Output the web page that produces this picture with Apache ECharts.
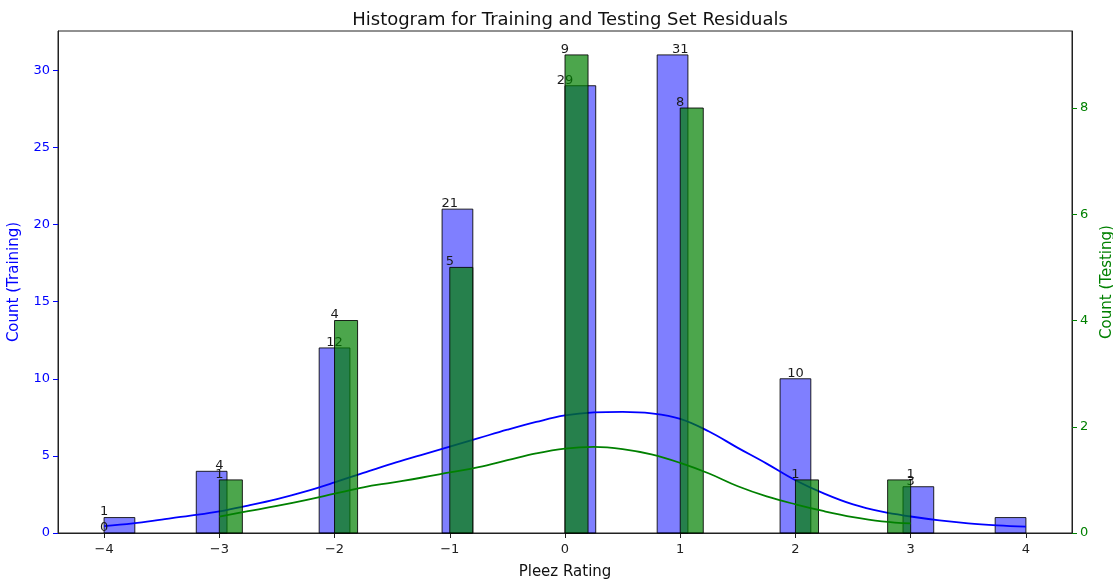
<!DOCTYPE html>
<html><head><meta charset="utf-8">
<script src="https://cdn.jsdelivr.net/npm/echarts@6/dist/echarts.min.js"></script>
<style>html,body{margin:0;padding:0;background:#fff}#c{width:1113px;height:583px}</style>
</head><body><div id="c"></div>
<script>
const titleText = 'Histogram for Training and Testing Set Residuals';
const xName = 'Pleez Rating';
const yNameTrain = 'Count (Training)';
const yNameTest = 'Count (Testing)';
const xTicks = [-4, -3, -2, -1, 0, 1, 2, 3, 4];
const yTicksTrain = [0, 5, 10, 15, 20, 25, 30];
const yTicksTest = [0, 2, 4, 6, 8];
const xExtent = [-4.4, 4.4];
const yTrainMax = 32.55;
const yTestMax = 9.45;

const trainRange = [-4, 4];
const trainCounts = [1,0,0,4,0,0,0,12,0,0,0,21,0,0,0,29,0,0,31,0,0,0,10,0,0,0,3,0,0,1];
const testRange = [-3, 3];
const testCounts = [1,0,0,0,0,4,0,0,0,0,5,0,0,0,0,9,0,0,0,0,8,0,0,0,0,1,0,0,0,1];

const labelX = [-4, -3, -2, -1, 0, 1, 2, 3];
const trainLabelCounts = [1, 4, 12, 21, 29, 31, 10, 3];
const testLabelCounts = [0, 1, 4, 5, 9, 8, 1, 1];

const trainKdeX = [-4,-3.75,-3.5,-3.25,-3,-2.75,-2.5,-2.25,-2,-1.75,-1.5,-1.25,-1,-0.75,-0.5,-0.25,0,0.25,0.5,0.75,1,1.25,1.5,1.75,2,2.25,2.5,2.75,3,3.25,3.5,3.75,4];
const trainKdeY = [0.45,0.63,0.87,1.12,1.40,1.78,2.20,2.70,3.28,3.90,4.50,5.05,5.60,6.15,6.70,7.20,7.62,7.82,7.86,7.76,7.40,6.58,5.52,4.50,3.42,2.55,1.85,1.38,1.07,0.82,0.63,0.50,0.41];
const testKdeX = [-3,-2.75,-2.5,-2.25,-2,-1.75,-1.5,-1.25,-1,-0.75,-0.5,-0.25,0,0.25,0.5,0.75,1,1.25,1.5,1.75,2,2.25,2.5,2.75,3];
const testKdeY = [0.31,0.41,0.51,0.62,0.74,0.86,0.95,1.04,1.14,1.24,1.37,1.50,1.59,1.62,1.58,1.48,1.32,1.12,0.88,0.69,0.54,0.41,0.30,0.22,0.18];

const FONT = 'DejaVu Sans';
const BLUE = '#0000ff';
const GREEN = '#008000';

function binData(range, counts) {
  const w = (range[1] - range[0]) / counts.length;
  return counts.map((c, i) => [range[0] + i * w, range[0] + (i + 1) * w, c]);
}
function pairs(xs, ys) { return xs.map((x, i) => [x, ys[i]]); }
function fmtNum(v) { return v < 0 ? '\u2212' + Math.abs(v) : String(v); }

function barRender(fill) {
  return function (params, api) {
    const c = api.value(2);
    if (!c) return null;
    const p0 = api.coord([api.value(0), c]);
    const p1 = api.coord([api.value(1), 0]);
    return {
      type: 'rect',
      shape: { x: p0[0], y: p0[1], width: p1[0] - p0[0], height: p1[1] - p0[1] },
      style: { fill: fill, stroke: 'rgba(0,0,0,0.85)', lineWidth: 1 }
    };
  };
}
function textRender(params, api) {
  const p = api.coord([api.value(0), api.value(1)]);
  return {
    type: 'text', x: p[0], y: p[1] + 1,
    style: { text: String(api.value(1)), textAlign: 'center', textVerticalAlign: 'bottom',
      font: '13px "' + FONT + '"', fill: '#1a1a1a' }
  };
}

const chart = echarts.init(document.getElementById('c'), null, { renderer: 'canvas' });
chart.setOption({
  animation: false,
  backgroundColor: '#fff',
  textStyle: { fontFamily: FONT },
  title: {
    text: titleText, left: 565, top: 6, textAlign: 'center',
    textStyle: { fontFamily: FONT, fontSize: 18, fontWeight: 'normal', color: '#111' }
  },
  grid: { left: 58, right: 41, top: 31, bottom: 50, outerBoundsMode: 'none', containLabel: false,
    show: true, borderColor: '#222', borderWidth: 1, backgroundColor: 'transparent' },
  xAxis: {
    type: 'value', min: xExtent[0], max: xExtent[1],
    name: xName, nameLocation: 'middle', nameGap: 32,
    nameTextStyle: { fontFamily: FONT, fontSize: 15, color: '#111' },
    axisLine: { show: true, onZero: false, lineStyle: { color: '#222', width: 1 } },
    axisTick: { show: true, inside: false, length: 5, customValues: xTicks, lineStyle: { color: '#222' } },
    axisLabel: { customValues: xTicks, formatter: fmtNum, margin: 10, fontFamily: FONT, fontSize: 13, color: '#222' },
    splitLine: { show: false }
  },
  yAxis: [
    {
      type: 'value', min: 0, max: yTrainMax, position: 'left',
      name: yNameTrain, nameLocation: 'middle', nameGap: 36, nameRotate: 90,
      nameTextStyle: { fontFamily: FONT, fontSize: 15, color: BLUE },
      axisLine: { show: true, onZero: false, lineStyle: { color: '#222', width: 1 } },
      axisTick: { show: true, length: 5, customValues: yTicksTrain, lineStyle: { color: BLUE } },
      axisLabel: { customValues: yTicksTrain, margin: 8, fontFamily: FONT, fontSize: 13, color: BLUE },
      splitLine: { show: false }
    },
    {
      type: 'value', min: 0, max: yTestMax, position: 'right',
      name: yNameTest, nameLocation: 'middle', nameGap: 26, nameRotate: 90,
      nameTextStyle: { fontFamily: FONT, fontSize: 15, color: GREEN },
      axisLine: { show: true, onZero: false, lineStyle: { color: '#222', width: 1 } },
      axisTick: { show: true, length: 5, customValues: yTicksTest, lineStyle: { color: GREEN } },
      axisLabel: { customValues: yTicksTest, margin: 8, fontFamily: FONT, fontSize: 13, color: GREEN },
      splitLine: { show: false }
    }
  ],
  series: [
    { type: 'custom', name: 'train bars', xAxisIndex: 0, yAxisIndex: 0, z: 1,
      data: binData(trainRange, trainCounts), encode: { x: [0, 1], y: 2 },
      renderItem: barRender('rgba(0,0,255,0.5)') },
    { type: 'line', name: 'train kde', yAxisIndex: 0, z: 2, data: pairs(trainKdeX, trainKdeY),
      smooth: 0.4, showSymbol: false, symbol: 'none', lineStyle: { color: BLUE, width: 1.8 } },
    { type: 'custom', name: 'train labels', yAxisIndex: 0, z: 3,
      data: pairs(labelX, trainLabelCounts), encode: { x: 0, y: 1 }, renderItem: textRender },
    { type: 'custom', name: 'test bars', xAxisIndex: 0, yAxisIndex: 1, z: 4,
      data: binData(testRange, testCounts), encode: { x: [0, 1], y: 2 },
      renderItem: barRender('rgba(0,128,0,0.7)') },
    { type: 'line', name: 'test kde', yAxisIndex: 1, z: 5, data: pairs(testKdeX, testKdeY),
      smooth: 0.4, showSymbol: false, symbol: 'none', lineStyle: { color: GREEN, width: 1.8 } },
    { type: 'custom', name: 'test labels', yAxisIndex: 1, z: 6,
      data: pairs(labelX, testLabelCounts), encode: { x: 0, y: 1 }, renderItem: textRender }
  ]
});
</script>
</body></html>
